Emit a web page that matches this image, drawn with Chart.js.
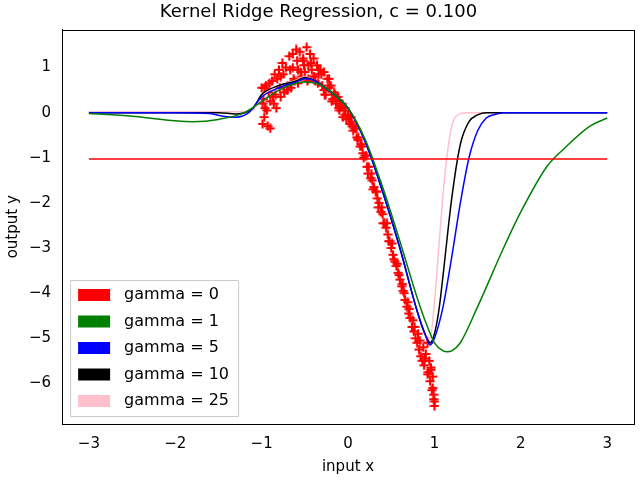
<!DOCTYPE html>
<html><head><meta charset="utf-8">
<script src="https://cdn.jsdelivr.net/npm/chart.js@4"></script>
<style>body{margin:0;background:#fff}#w{width:640px;height:480px}</style>
</head><body><div id="w"><canvas id="c"></canvas></div>
<script>
// noisy samples
var ptX = [-1.00,-0.99,-0.98,-0.97,-0.95,-0.94,-0.92,-0.90,-0.88,-0.86,-0.85,-0.83,-0.80,-0.78,-0.76,-0.74,-0.72,-0.70,-0.68,-0.66,-0.64,-0.62,-0.60,-0.58,-0.56,-0.54,-0.52,-0.50,-0.48,-0.46,-0.44,-0.42,-0.40,-0.38,-0.36,-0.34,-0.32,-0.30,-0.28,-0.26,-0.24,-0.22,-0.20,-0.18,-0.16,-0.14,-0.12,-0.10,-0.08,-0.06,-0.04,-0.02,0.00,0.02,0.04,0.06,0.08,0.10,0.12,0.14,0.16,0.18,0.20,0.22,0.24,0.26,0.28,0.30,0.32,0.34,0.36,0.38,0.40,0.42,0.44,0.46,0.48,0.50,0.52,0.54,0.56,0.58,0.60,0.62,0.64,0.66,0.68,0.70,0.72,0.74,0.76,0.78,0.80,0.82,0.84,0.86,0.88,0.90,0.92,0.94,0.95,0.96,0.97,0.98,0.99,1.00,-0.96,-0.90,-0.84,-0.78,-0.70,-0.64,-0.58,-0.52,-0.46,-0.40,-0.34,-0.28,-0.22,-0.16,-0.10,-0.04,0.03,0.09,0.15,0.21,0.27,0.33,0.39,0.45,0.51,0.57,0.63,0.69,0.75,0.81,0.87,0.93,0.98,
  -0.99,-0.97,-0.93,-0.91,-0.87,-0.82,-0.79,-0.75,-0.71,-0.67,-0.63,-0.59,-0.55,-0.51,-0.47,-0.43,-0.39,-0.35,-0.31,-0.27,-0.23,-0.19,-0.15,-0.11,-0.07,-0.03,0.01,0.05,0.11,0.17,0.23,0.29,0.35,0.41,0.47,0.53,0.59,0.65,0.71,0.77,0.83,0.89,0.92,0.96,0.99,1.00];
var ptY = [0.55,-0.25,0.30,-0.10,0.60,0.05,0.45,-0.35,0.70,0.20,0.85,0.10,0.95,0.35,1.10,0.45,1.00,0.60,1.25,0.55,1.30,0.70,1.40,0.65,1.35,0.80,1.20,0.90,1.45,0.75,1.30,0.95,1.20,0.70,1.05,0.85,0.95,0.60,0.90,0.40,0.75,0.55,0.60,0.30,0.45,0.20,0.35,0.05,0.15,-0.10,0.05,-0.15,-0.05,-0.25,-0.20,-0.40,-0.35,-0.55,-0.55,-0.75,-0.75,-1.00,-0.95,-1.20,-1.20,-1.45,-1.50,-1.65,-1.75,-1.90,-2.00,-2.20,-2.25,-2.45,-2.55,-2.70,-2.85,-3.00,-3.15,-3.30,-3.40,-3.55,-3.70,-3.85,-3.95,-4.15,-4.30,-4.45,-4.55,-4.75,-4.85,-5.00,-5.10,-5.25,-5.40,-5.50,-5.60,-5.35,-5.80,-5.50,-5.95,-5.70,-6.15,-5.85,-6.35,-6.50,0.10,0.25,0.40,0.80,0.50,1.00,0.95,1.15,1.05,0.80,0.95,0.50,0.75,0.40,0.25,0.10,-0.10,-0.35,-0.70,-0.95,-1.35,-1.75,-2.10,-2.45,-2.90,-3.35,-3.80,-4.20,-4.60,-4.90,-5.20,-5.75,-6.10,
  0.20,0.55,-0.30,0.65,0.35,0.75,0.55,0.85,0.50,0.95,0.75,1.15,0.90,1.05,0.70,1.10,0.80,0.65,0.85,0.40,0.55,0.25,0.40,0.10,0.20,-0.05,-0.10,-0.30,-0.60,-0.90,-1.35,-1.70,-2.10,-2.45,-2.85,-3.25,-3.60,-4.00,-4.35,-4.75,-5.05,-5.45,-5.10,-5.65,-6.25,-6.40];

var g0X = [-3, 3];
var g0Y = [-1.03, -1.03];
var g1X = [-3,-2.5,-2,-1.8,-1.5,-1.2,-1,-0.8,-0.6,-0.5,-0.3,-0.1,0,0.2,0.4,0.6,0.8,0.9,1,1.1,1.15,1.2,1.3,1.5,1.8,2,2.3,2.5,2.8,3];
var g1Y = [-0.02,-0.08,-0.18,-0.2,-0.15,0,0.25,0.5,0.65,0.68,0.6,0.3,0.1,-0.6,-1.65,-2.85,-4.1,-4.65,-5.1,-5.28,-5.3,-5.28,-5.1,-4.3,-3.0,-2.2,-1.2,-0.8,-0.3,-0.12];
var g5X = [-3,-2,-1.6,-1.45,-1.3,-1.15,-1,-0.8,-0.6,-0.5,-0.4,-0.3,-0.1,0,0.2,0.4,0.6,0.8,0.9,0.95,1,1.1,1.2,1.3,1.4,1.5,1.6,1.7,1.8,2,3];
var g5Y = [0,0,-0.02,-0.08,-0.1,0,0.35,0.55,0.68,0.75,0.72,0.6,0.3,0.1,-0.65,-1.75,-3.0,-4.4,-4.95,-5.15,-5.0,-4.3,-3.2,-2.0,-1.0,-0.4,-0.12,-0.04,0,0,0];
var g10X = [-3,-1.5,-1.3,-1.1,-1,-0.8,-0.6,-0.5,-0.4,-0.3,-0.1,0,0.2,0.4,0.6,0.8,0.9,0.95,1,1.05,1.1,1.2,1.3,1.4,1.5,1.6,1.8,3];
var g10Y = [0,0,-0.03,0.1,0.4,0.6,0.7,0.78,0.72,0.6,0.3,0.1,-0.65,-1.75,-3.0,-4.4,-4.95,-5.1,-4.9,-4.4,-3.6,-1.9,-0.7,-0.2,-0.05,0,0,0];
var g25X = [-3,-1.2,-1.1,-1,-0.8,-0.6,-0.5,-0.4,-0.3,-0.1,0,0.2,0.4,0.6,0.8,0.9,0.95,1,1.05,1.1,1.15,1.2,1.3,1.4,3];
var g25Y = [0.02,0.02,0.05,0.35,0.6,0.72,0.8,0.72,0.6,0.3,0.1,-0.65,-1.75,-3.0,-4.4,-4.95,-5.0,-4.2,-3.0,-1.8,-0.9,-0.3,-0.02,0,0];

var legendLabels = ['gamma = 0','gamma = 1','gamma = 5','gamma = 10','gamma = 25'];
var legendColors = ['red','green','blue','black','pink'];

function pts(xs, ys){ return xs.map(function(x,i){ return {x:x, y:ys[i]}; }); }

function crossStyle(){
  var c = document.createElement('canvas'); c.width=10; c.height=10;
  var g = c.getContext('2d'); g.strokeStyle='red'; g.lineWidth=2.2;
  g.beginPath(); g.moveTo(5,0.5); g.lineTo(5,9.5); g.moveTo(0.5,5); g.lineTo(9.5,5); g.stroke();
  return c;
}

var lineSets = [[g0X,g0Y],[g1X,g1Y],[g5X,g5Y],[g10X,g10Y],[g25X,g25Y]].map(function(s,i){
  return {label: legendLabels[i], data: pts(s[0],s[1]), showLine:true, borderColor: legendColors[i],
    borderWidth:1.5, pointRadius:0, cubicInterpolationMode:'monotone', order:1};
});

var boxLegend = {
  id:'boxLegend',
  afterDraw: function(ch){
    var ctx = ch.ctx, a = ch.chartArea;
    ctx.save();
    ctx.strokeStyle='#000'; ctx.lineWidth=1;
    ctx.strokeRect(Math.round(a.left)+0.5, Math.round(a.top)+0.5, Math.round(a.right-a.left), Math.round(a.bottom-a.top));
    var x0 = a.left+8, y0 = a.bottom-8-136, w=168, h=136;
    ctx.fillStyle='rgba(255,255,255,0.8)'; ctx.strokeStyle='#ccc';
    ctx.beginPath(); ctx.rect(x0+0.5,y0+0.5,w,h); ctx.fill(); ctx.stroke();
    ctx.font='16px "DejaVu Sans"'; ctx.textBaseline='middle';
    legendLabels.forEach(function(l,i){
      var yy = y0+15+i*26.5;
      ctx.fillStyle=legendColors[i]; ctx.fillRect(x0+8, yy-6, 32, 12);
      ctx.fillStyle='#000'; ctx.fillText(l, x0+54, yy);
    });
    ctx.restore();
  }
};

new Chart(document.getElementById('c'), {
  type:'scatter',
  data:{datasets: lineSets.concat([{label:'data', data: pts(ptX,ptY), pointStyle: crossStyle(), pointRadius:5, order:2}])},
  options:{
    responsive:true, maintainAspectRatio:false, animation:false,
    layout:{padding:{right:3}},
    plugins:{
      legend:{display:false}, tooltip:{enabled:false},
      title:{display:true, text:'Kernel Ridge Regression, c = 0.100', color:'#000', font:{family:'DejaVu Sans', size:18, weight:'normal'}, padding:{top:2,bottom:6}}
    },
    scales:{
      x:{min:-3.31, max:3.31, grid:{display:false}, border:{color:'#000'},
        ticks:{color:'#000', font:{family:'DejaVu Sans', size:15}, callback:function(v){return String(v).replace('-','\u2212');}},
        afterBuildTicks:function(s){ s.ticks=[-3,-2,-1,0,1,2,3].map(function(v){return {value:v};}); },
        title:{display:true, text:'input x', color:'#000', font:{family:'DejaVu Sans', size:15}, padding:{top:2}}},
      y:{min:-6.9, max:1.84, grid:{display:false}, border:{color:'#000'},
        afterBuildTicks:function(s){ s.ticks=[1,0,-1,-2,-3,-4,-5,-6].map(function(v){return {value:v};}); },
        ticks:{color:'#000', font:{family:'DejaVu Sans', size:15}, callback:function(v){return String(v).replace('-','\u2212');}},
        title:{display:true, text:'output y', color:'#000', font:{family:'DejaVu Sans', size:15}}}
    }
  },
  plugins:[boxLegend]
});
</script></body></html>
